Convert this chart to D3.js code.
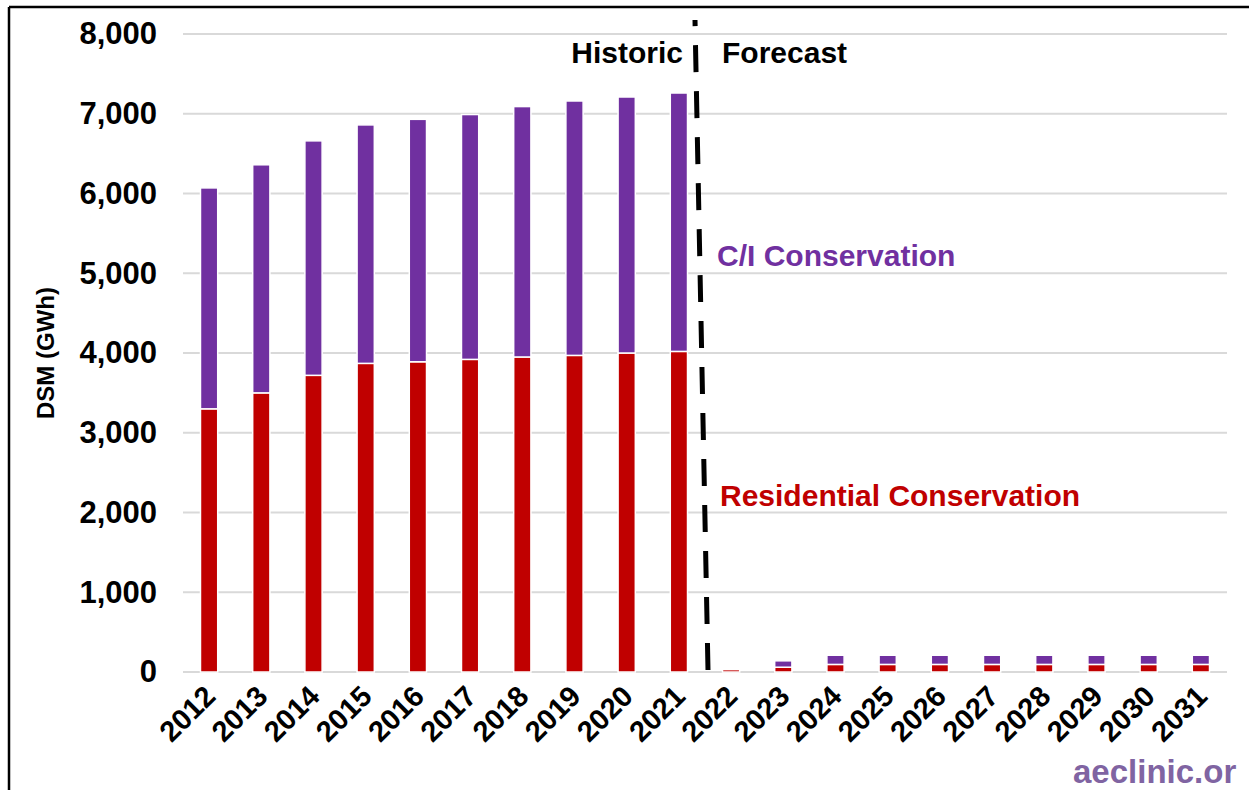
<!DOCTYPE html>
<html>
<head>
<meta charset="utf-8">
<script src="https://cdn.jsdelivr.net/npm/d3@7"></script>
<style>
  body { margin: 0; background: #fff; }
  svg { display: block; }
  text { font-family: "Liberation Sans", Arial, sans-serif; }
</style>
</head>
<body>
<svg id="chart" width="1249" height="790"></svg>
<script>
// Demand-side management savings by year (GWh)
const years = ["2012","2013","2014","2015","2016","2017","2018","2019","2020","2021",
               "2022","2023","2024","2025","2026","2027","2028","2029","2030","2031"];
const residential = [3300,3500,3720,3870,3890,3920,3950,3970,4000,4020,
                     30,60,95,95,95,95,95,95,95,95];
const commercialIndustrial = [2770,2860,2940,2990,3040,3070,3140,3190,3210,3240,
                              0,80,115,115,115,115,115,115,115,115];
const yTicks = [0,1000,2000,3000,4000,5000,6000,7000,8000];
const seriesNames = ["Residential Conservation","C/I Conservation"];
const seriesColors = ["#c00000","#7030a0"];
const firstForecastYear = "2022";

const svg = d3.select("#chart");
const W = 1249, H = 790;

// frame lines
svg.append("line").attr("x1",9).attr("x2",9).attr("y1",7).attr("y2",H).attr("stroke","#000").attr("stroke-width",2.5);
svg.append("line").attr("x1",9).attr("x2",W).attr("y1",7).attr("y2",7).attr("stroke","#000").attr("stroke-width",2.5);

const x = d3.scaleBand().domain(years).range([183,1227]).paddingInner(0.67).paddingOuter(0.335);
const y = d3.scaleLinear().domain([0,8000]).range([672,34]);

// gridlines
svg.append("g").selectAll("line").data(yTicks).join("line")
  .attr("x1",183).attr("x2",1227)
  .attr("y1",d=>y(d)).attr("y2",d=>y(d))
  .attr("stroke","#d9d9d9").attr("stroke-width",2);

// y axis labels
const yAxis = d3.axisLeft(y).tickValues(yTicks).tickFormat(d3.format(",")).tickSize(0).tickPadding(26);
const gy = svg.append("g").attr("transform","translate(183,0)").call(yAxis);
gy.select(".domain").remove();
gy.selectAll("text").attr("font-size",31).attr("font-weight","bold").attr("fill","#000")
  .attr("font-family","'Liberation Sans', Arial, sans-serif");

// stacked bars
const rows = years.map((yr,i)=>({year:yr, res:residential[i], ci:commercialIndustrial[i]}));
const stack = d3.stack().keys(["res","ci"])(rows);
svg.append("g").selectAll("g").data(stack).join("g")
  .attr("fill",(d,i)=>seriesColors[i])
  .selectAll("rect").data(d=>d.filter(s=>s[1]-s[0]>0)).join("rect")
  .attr("x",d=>x(d.data.year))
  .attr("width",x.bandwidth())
  .attr("y",d=>y(d[1]))
  .attr("height",d=>y(d[0])-y(d[1]))
  .attr("stroke","#fff").attr("stroke-width",1.5);

// x axis
const xAxis = d3.axisBottom(x).tickSize(0).tickPadding(0);
const gx = svg.append("g").attr("transform","translate(0,672)").call(xAxis);
gx.select(".domain").remove();
gx.selectAll("text")
  .attr("font-size",29).attr("font-weight","bold").attr("fill","#000")
  .attr("font-family","'Liberation Sans', Arial, sans-serif")
  .attr("text-anchor","end").attr("dy",null).attr("y",0)
  .attr("transform","translate(8,26) rotate(-45)");

// historic / forecast divider
const boundary = (x("2021") + x.bandwidth() + x(firstForecastYear))/2;
svg.append("line")
  .attr("x1",boundary+3).attr("y1",670)
  .attr("x2",boundary-10).attr("y2",20)
  .attr("stroke","#000").attr("stroke-width",5)
  .attr("stroke-dasharray","27,19");

svg.append("text").attr("x",boundary-22).attr("y",63).attr("text-anchor","end")
  .attr("font-size",30).attr("font-weight","bold").text("Historic");
svg.append("text").attr("x",boundary+17).attr("y",63).attr("text-anchor","start")
  .attr("font-size",30).attr("font-weight","bold").text("Forecast");

// series labels
svg.append("text").attr("x",717).attr("y",266).attr("font-size",30).attr("font-weight","bold")
  .attr("fill",seriesColors[1]).text(seriesNames[1]);
svg.append("text").attr("x",720).attr("y",506).attr("font-size",30).attr("font-weight","bold")
  .attr("fill",seriesColors[0]).text(seriesNames[0]);

// y axis title
svg.append("text").attr("transform","translate(54,353) rotate(-90)").attr("text-anchor","middle")
  .attr("font-size",24).attr("font-weight","bold").text("DSM (GWh)");

// source mark
svg.append("text").attr("x",1073).attr("y",783)
  .attr("font-family","'Open Sans', sans-serif").attr("font-size",33).attr("font-weight",600)
  .attr("fill","#8064a2").text("aeclinic.or");
</script>
</body>
</html>
